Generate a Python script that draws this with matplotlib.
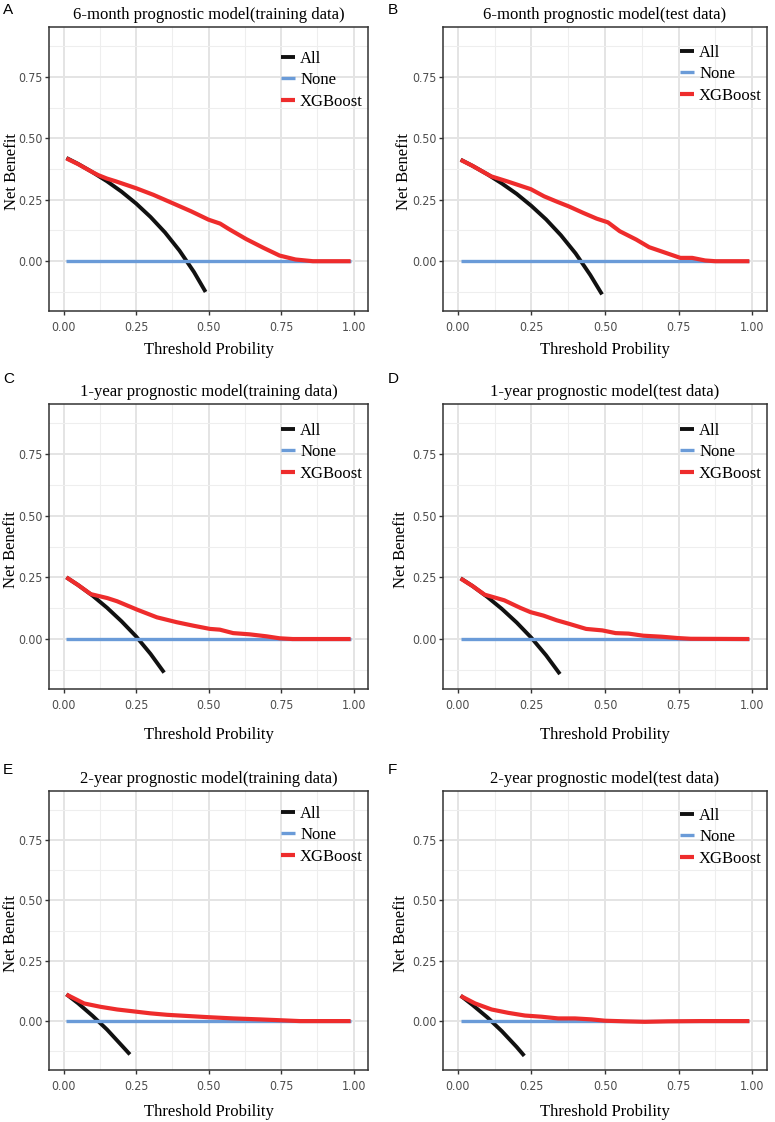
import matplotlib
matplotlib.use("Agg")
import matplotlib.pyplot as plt
from matplotlib import font_manager

# Decision curves (threshold probability -> net benefit)

titles = ["6-month prognostic model(training data)", "6-month prognostic model(test data)",
          "1-year prognostic model(training data)", "1-year prognostic model(test data)",
          "2-year prognostic model(training data)", "2-year prognostic model(test data)"]
letters = ["A", "B", "C", "D", "E", "F"]

# "All" (treat everyone) curves
a_all_pt = [0.01, 0.05, 0.10, 0.15, 0.20, 0.25, 0.30, 0.35, 0.40, 0.45, 0.49]
a_all_nb = [0.420, 0.396, 0.362, 0.325, 0.283, 0.235, 0.180, 0.117, 0.043, -0.044, -0.125]
b_all_pt = [0.01, 0.05, 0.10, 0.15, 0.20, 0.25, 0.30, 0.35, 0.40, 0.45, 0.49]
b_all_nb = [0.413, 0.388, 0.354, 0.316, 0.274, 0.225, 0.170, 0.106, 0.032, -0.056, -0.135]
c_all_pt = [0.01, 0.05, 0.10, 0.15, 0.20, 0.25, 0.30, 0.347]
c_all_nb = [0.250, 0.219, 0.176, 0.127, 0.072, 0.011, -0.060, -0.136]
d_all_pt = [0.01, 0.05, 0.10, 0.15, 0.20, 0.25, 0.30, 0.347]
d_all_nb = [0.246, 0.215, 0.171, 0.122, 0.067, 0.005, -0.066, -0.142]
e_all_pt = [0.01, 0.05, 0.10, 0.15, 0.20, 0.229]
e_all_nb = [0.111, 0.074, 0.022, -0.035, -0.100, -0.138]
f_all_pt = [0.01, 0.05, 0.10, 0.15, 0.20, 0.226]
f_all_nb = [0.105, 0.067, 0.016, -0.042, -0.107, -0.144]

# XGBoost curves
a_xgb_pt = [0.01, 0.05, 0.10, 0.12, 0.15, 0.18, 0.25, 0.31, 0.38, 0.44, 0.50, 0.54, 0.57,
            0.63, 0.69, 0.745, 0.80, 0.86, 0.99]
a_xgb_nb = [0.418, 0.395, 0.362, 0.350, 0.336, 0.325, 0.297, 0.270, 0.234, 0.203, 0.169,
            0.153, 0.131, 0.090, 0.054, 0.023, 0.007, 0.0, 0.0]
b_xgb_pt = [0.01, 0.05, 0.10, 0.114, 0.17, 0.248, 0.293, 0.337, 0.377, 0.427, 0.472, 0.51,
            0.55, 0.606, 0.65, 0.706, 0.756, 0.796, 0.84, 0.874, 0.99]
b_xgb_nb = [0.412, 0.388, 0.354, 0.345, 0.324, 0.293, 0.264, 0.242, 0.223, 0.196, 0.173,
            0.158, 0.122, 0.088, 0.057, 0.034, 0.0135, 0.0135, 0.003, 0.0, 0.0]
c_xgb_pt = [0.01, 0.05, 0.094, 0.151, 0.185, 0.254, 0.322, 0.391, 0.448, 0.505, 0.539,
            0.585, 0.642, 0.70, 0.745, 0.79, 0.99]
c_xgb_nb = [0.250, 0.219, 0.182, 0.166, 0.153, 0.119, 0.088, 0.068, 0.054, 0.041, 0.038,
            0.024, 0.019, 0.011, 0.003, 0.0, 0.0]
d_xgb_pt = [0.01, 0.05, 0.091, 0.158, 0.213, 0.247, 0.291, 0.336, 0.38, 0.436, 0.491,
            0.536, 0.58, 0.63, 0.691, 0.747, 0.791, 0.99]
d_xgb_nb = [0.245, 0.215, 0.180, 0.157, 0.126, 0.109, 0.095, 0.076, 0.061, 0.041, 0.035,
            0.024, 0.022, 0.0135, 0.0095, 0.004, 0.001, 0.0]
e_xgb_pt = [0.01, 0.071, 0.128, 0.185, 0.243, 0.30, 0.357, 0.414, 0.494, 0.586, 0.677,
            0.757, 0.815, 0.99]
e_xgb_nb = [0.110, 0.073, 0.059, 0.048, 0.040, 0.032, 0.026, 0.022, 0.0165, 0.011, 0.007,
            0.003, 0.0, 0.0]
f_xgb_pt = [0.01, 0.059, 0.115, 0.172, 0.228, 0.285, 0.341, 0.398, 0.454, 0.50, 0.567,
            0.635, 0.714, 0.827, 0.99]
f_xgb_nb = [0.104, 0.073, 0.048, 0.034, 0.023, 0.018, 0.011, 0.011, 0.007, 0.0015, -0.001,
            -0.003, -0.001, 0.0, 0.0]

# "None" (treat nobody)
none_pt = [0.01, 0.99]
none_nb = [0.0, 0.0]

x_ticks = [0.0, 0.25, 0.5, 0.75, 1.0]
x_ticklabels = ["0.00", "0.25", "0.50", "0.75", "1.00"]
y_ticks = [0.0, 0.25, 0.5, 0.75]
y_ticklabels = ["0.00", "0.25", "0.50", "0.75"]

all_curves = [(a_all_pt, a_all_nb), (b_all_pt, b_all_nb), (c_all_pt, c_all_nb),
              (d_all_pt, d_all_nb), (e_all_pt, e_all_nb), (f_all_pt, f_all_nb)]
xgb_curves = [(a_xgb_pt, a_xgb_nb), (b_xgb_pt, b_xgb_nb), (c_xgb_pt, c_xgb_nb),
              (d_xgb_pt, d_xgb_nb), (e_xgb_pt, e_xgb_nb), (f_xgb_pt, f_xgb_nb)]

serif = ["Liberation Serif", "DejaVu Serif"]
sans = ["Liberation Sans", "DejaVu Sans"]

# tick labels in the original use a narrow sans; pick one if there is one
fonts = font_manager.fontManager.ttflist
tick_family, tick_stretch, tick_size = sans, "normal", 8
if any(f.name == "Liberation Sans Narrow" for f in fonts):
    tick_family, tick_size = ["Liberation Sans Narrow", "DejaVu Sans"], 9
elif any(f.name == "DejaVu Sans" and f.stretch == "condensed" for f in fonts):
    tick_family, tick_stretch, tick_size = ["DejaVu Sans"], "condensed", 8.8

W, H = 775., 1122.
fig = plt.figure(figsize=(W / 100, H / 100), dpi=100)

# axes boxes in pixels
lefts = [49, 443]
rights = [368, 767]
tops = [27, 404, 791]
bottoms = [311, 689, 1070]
letter_y = [10, 379, 770]
xlabel_pad = [6, 11, 8]
ylabel_x = [20, 412, 19, 409, 19, 409]      # right edge of the y label, px
legend_top = [31, 25, 26, 26, 22, 24]        # first legend row below axes top, px

for k in range(6):
    r, c = k // 2, k % 2
    w = rights[c] - lefts[c]
    h = bottoms[r] - tops[r]
    ax = fig.add_axes([lefts[c] / W, 1 - bottoms[r] / H, w / W, h / H])
    ax.set_xlim(-0.05, 1.05)
    ax.set_ylim(-0.2025, 0.9525)
    ax.set_xticks(x_ticks)
    ax.set_xticklabels(x_ticklabels)
    ax.set_yticks(y_ticks)
    ax.set_yticklabels(y_ticklabels)
    ax.set_xticks([0.125, 0.375, 0.625, 0.875], minor=True)
    ax.set_yticks([-0.125, 0.125, 0.375, 0.625, 0.875], minor=True)
    ax.grid(which="major", color="#E4E4E4", linewidth=1.4)
    ax.grid(which="minor", color="#EEEEEE", linewidth=0.8)
    ax.set_axisbelow(True)
    ax.tick_params(which="minor", length=0)
    ax.tick_params(which="major", length=3, width=1.0, color="#333333",
                   labelcolor="#4D4D4D", labelsize=tick_size, pad=1.5)
    ax.tick_params(axis="x", which="major", pad=4)
    for lab in ax.get_xticklabels() + ax.get_yticklabels():
        lab.set_family(tick_family)
        lab.set_fontstretch(tick_stretch)
    for s in ax.spines.values():
        s.set_color("#333333")
        s.set_linewidth(1.1)

    ax.plot(all_curves[k][0], all_curves[k][1], color="#111111", lw=2.8,
            solid_capstyle="butt", label="All")
    ax.plot(none_pt, none_nb, color="#6A9BD8", lw=2.4, solid_capstyle="butt", label="None")
    ax.plot(xgb_curves[k][0], xgb_curves[k][1], color="#EE2C2C", lw=3.0,
            solid_capstyle="butt", label="XGBoost")

    ax.set_title(titles[k], family=serif, fontsize=12, pad=6)
    ax.set_xlabel("Threshold Probility", family=serif, fontsize=12, labelpad=xlabel_pad[r])
    ax.set_ylabel("Net Benefit", family=serif, fontsize=12)
    ax.yaxis.set_label_coords((ylabel_x[k] - lefts[c]) / w, 0.49)
    ax.legend(loc="upper right", bbox_to_anchor=(1.005, 1 - (legend_top[k] - 14) / h),
              frameon=False, prop={"family": serif, "size": 12}, handlelength=0.85,
              handletextpad=0.3, labelspacing=0.33, borderaxespad=0.0)

    lx = 3 if c == 0 else 388
    fig.text(lx / W, 1 - letter_y[r] / H, letters[k], family=sans,
             fontsize=11, va="center", ha="left")

fig.savefig("out.png", dpi=100)
